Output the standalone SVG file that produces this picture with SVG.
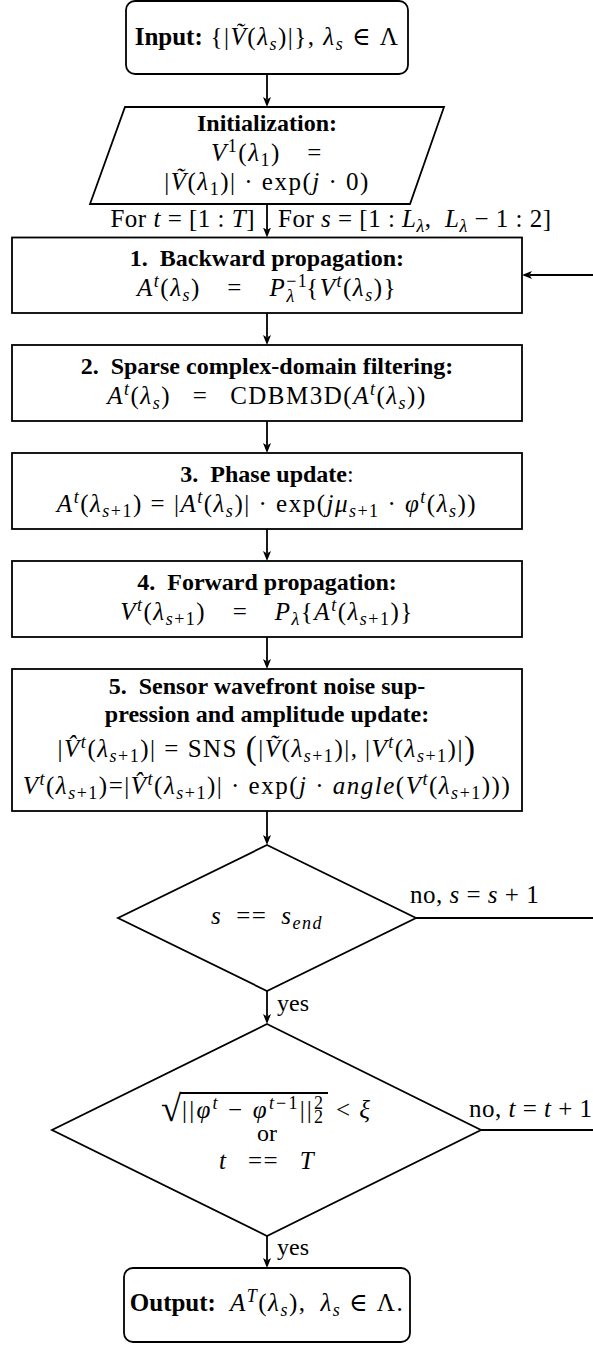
<svg xmlns="http://www.w3.org/2000/svg" width="593" height="1348" viewBox="0 0 593 1348">
<style>
.t{font-family:"Liberation Serif","DejaVu Serif",serif;font-size:24px;fill:#000}
.m{font-size:25px;letter-spacing:1.5px}
.lb{font-size:25px;letter-spacing:0.5px}
.b{font-weight:bold;letter-spacing:0}
.i{font-style:italic}
.sc{font-size:18px}
.box{fill:#fff;stroke:#000;stroke-width:1.8}
.ln{fill:none;stroke:#000;stroke-width:1.8}
.fb{fill:none;stroke:#000;stroke-width:2.2}
</style>
<defs>
<marker id="ah" markerUnits="userSpaceOnUse" markerWidth="11" markerHeight="9" refX="2.5" refY="4" orient="auto">
<path d="M0,0 L10,4 L0,8 L2.5,4 Z" fill="#000"/>
</marker>
</defs>
<rect width="593" height="1348" fill="#fff"/>

<g id="connectors">
<path class="ln" d="M267,74 V99.5" marker-end="url(#ah)"/>
<path class="ln" d="M267,204 V230" marker-end="url(#ah)"/>
<path class="ln" d="M267,313 V337.5" marker-end="url(#ah)"/>
<path class="ln" d="M267,421 V445.5" marker-end="url(#ah)"/>
<path class="ln" d="M267,529 V553.5" marker-end="url(#ah)"/>
<path class="ln" d="M267,637 V661.5" marker-end="url(#ah)"/>
<path class="ln" d="M267,811 V837.5" marker-end="url(#ah)"/>
<path class="ln" d="M267,991 V1016.5" marker-end="url(#ah)"/>
<path class="ln" d="M267,1236 V1260.5" marker-end="url(#ah)"/>
<path class="fb" d="M416,918 H603 V275 H529.5" marker-end="url(#ah)"/>
<path class="fb" d="M481,1130 H603 V918"/>
<text class="t lb" x="255" y="227" text-anchor="end">For <tspan class="i">t</tspan>&#8197;=&#8197;[1&#8197;:&#8197;<tspan class="i">T</tspan>]</text>
<text class="t lb" x="278" y="227">For <tspan class="i">s</tspan>&#8197;=&#8197;[1&#8197;:&#8197;<tspan class="i">L</tspan><tspan class="sc i" dy="5">λ</tspan><tspan dy="-5">,&#8197;&#8197;</tspan><tspan class="i">L</tspan><tspan class="sc i" dy="5">λ</tspan><tspan dy="-5">&#8197;−&#8197;1&#8197;:&#8197;2]</tspan></text>
<text class="t lb" x="410" y="903">no, <tspan class="i">s</tspan>&#8197;=&#8197;<tspan class="i">s</tspan>&#8197;+&#8197;1</text>
<text class="t lb" x="469" y="1117">no, <tspan class="i">t</tspan>&#8197;=&#8197;<tspan class="i">t</tspan>&#8197;+&#8197;1</text>
<text class="t" x="277" y="1011">yes</text>
<text class="t" x="277" y="1255">yes</text>
</g>

<g id="input">
<rect class="box" x="126" y="1" width="282" height="73" rx="9"/>
<text class="t m" x="267" y="45" text-anchor="middle"><tspan class="b">Input:</tspan>&#8197;{|<tspan class="i">Ṽ</tspan>(<tspan class="i">λ</tspan><tspan class="sc i" dy="5">s</tspan><tspan dy="-5">)|},&#8197;</tspan><tspan class="i">λ</tspan><tspan class="sc i" dy="5">s</tspan><tspan dy="-5">&#8197;∈&#8197;Λ</tspan></text>
</g>

<g id="init">
<polygon class="box" points="125,107 444,107 410,204 90,204"/>
<text class="t b" x="267" y="131" text-anchor="middle">Initialization:</text>
<text class="t m" x="267" y="161" text-anchor="middle"><tspan class="i">V</tspan><tspan class="sc" dy="-9">1</tspan><tspan dy="9">(</tspan><tspan class="i">λ</tspan><tspan class="sc" dy="5">1</tspan><tspan dy="-5">)&#8195;=</tspan></text>
<text class="t m" x="267" y="190" text-anchor="middle">|<tspan class="i">Ṽ</tspan>(<tspan class="i">λ</tspan><tspan class="sc" dy="5">1</tspan><tspan dy="-5">)|&#8197;·&#8197;exp(</tspan><tspan class="i">j</tspan>&#8197;·&#8197;0)</text>
</g>

<g id="step1">
<rect class="box" x="12" y="237.5" width="510" height="75.5"/>
<text class="t b" x="267" y="266" text-anchor="middle">1.&#8194;Backward propagation:</text>
<text class="t m" x="267" y="296" text-anchor="middle"><tspan class="i">A</tspan><tspan class="sc i" dy="-9">t</tspan><tspan dy="9">(</tspan><tspan class="i">λ</tspan><tspan class="sc i" dy="5">s</tspan><tspan dy="-5">)&#8195;=&#8195;</tspan><tspan class="i">P</tspan><tspan class="sc" dy="-9">−1</tspan><tspan class="sc i" dy="15" dx="-22">λ</tspan><tspan dy="-6" dx="10.5">{</tspan><tspan class="i">V</tspan><tspan class="sc i" dy="-9">t</tspan><tspan dy="9">(</tspan><tspan class="i">λ</tspan><tspan class="sc i" dy="5">s</tspan><tspan dy="-5">)}</tspan></text>
</g>

<g id="step2">
<rect class="box" x="12" y="345" width="510" height="76"/>
<text class="t b" x="267" y="374" text-anchor="middle">2.&#8194;Sparse complex-domain filtering:</text>
<text class="t m" x="267" y="404" text-anchor="middle"><tspan class="i">A</tspan><tspan class="sc i" dy="-9">t</tspan><tspan dy="9">(</tspan><tspan class="i">λ</tspan><tspan class="sc i" dy="5">s</tspan><tspan dy="-5">)&#8194;&#8197;=&#8194;&#8197;CDBM3D(</tspan><tspan class="i">A</tspan><tspan class="sc i" dy="-9">t</tspan><tspan dy="9">(</tspan><tspan class="i">λ</tspan><tspan class="sc i" dy="5">s</tspan><tspan dy="-5">))</tspan></text>
</g>

<g id="step3">
<rect class="box" x="12" y="453" width="510" height="76"/>
<text class="t" x="267" y="482" text-anchor="middle"><tspan class="b">3.&#8194;Phase update</tspan>:</text>
<text class="t m" x="267" y="512" text-anchor="middle"><tspan class="i">A</tspan><tspan class="sc i" dy="-9">t</tspan><tspan dy="9">(</tspan><tspan class="i">λ</tspan><tspan class="sc" dy="5"><tspan class="i">s</tspan>+1</tspan><tspan dy="-5">)&#8197;=&#8197;|</tspan><tspan class="i">A</tspan><tspan class="sc i" dy="-9">t</tspan><tspan dy="9">(</tspan><tspan class="i">λ</tspan><tspan class="sc i" dy="5">s</tspan><tspan dy="-5">)|&#8197;·&#8197;exp(</tspan><tspan class="i">jμ</tspan><tspan class="sc" dy="5"><tspan class="i">s</tspan>+1</tspan><tspan dy="-5">&#8197;·&#8197;</tspan><tspan class="i">φ</tspan><tspan class="sc i" dy="-9">t</tspan><tspan dy="9">(</tspan><tspan class="i">λ</tspan><tspan class="sc i" dy="5">s</tspan><tspan dy="-5">))</tspan></text>
</g>

<g id="step4">
<rect class="box" x="12" y="561" width="510" height="76"/>
<text class="t b" x="267" y="590" text-anchor="middle">4.&#8194;Forward propagation:</text>
<text class="t m" x="267" y="620" text-anchor="middle"><tspan class="i">V</tspan><tspan class="sc i" dy="-9">t</tspan><tspan dy="9">(</tspan><tspan class="i">λ</tspan><tspan class="sc" dy="5"><tspan class="i">s</tspan>+1</tspan><tspan dy="-5">)&#8195;=&#8195;</tspan><tspan class="i">P</tspan><tspan class="sc i" dy="5">λ</tspan><tspan dy="-5">{</tspan><tspan class="i">A</tspan><tspan class="sc i" dy="-9">t</tspan><tspan dy="9">(</tspan><tspan class="i">λ</tspan><tspan class="sc" dy="5"><tspan class="i">s</tspan>+1</tspan><tspan dy="-5">)}</tspan></text>
</g>

<g id="step5">
<rect class="box" x="12" y="669" width="510" height="142"/>
<text class="t b" x="267" y="694" text-anchor="middle">5.&#8194;Sensor wavefront noise sup-</text>
<text class="t b" x="267" y="722" text-anchor="middle">pression and amplitude update:</text>
<text class="t m" x="267" y="757" text-anchor="middle">|<tspan class="i">V̂</tspan><tspan class="sc i" dy="-9">t</tspan><tspan dy="9">(</tspan><tspan class="i">λ</tspan><tspan class="sc" dy="5"><tspan class="i">s</tspan>+1</tspan><tspan dy="-5">)|&#8197;=&#8197;SNS&#8197;</tspan><tspan font-size="33" dy="2">(</tspan><tspan dy="-2">|</tspan><tspan class="i">Ṽ</tspan>(<tspan class="i">λ</tspan><tspan class="sc" dy="5"><tspan class="i">s</tspan>+1</tspan><tspan dy="-5">)|,&#8201;|</tspan><tspan class="i">V</tspan><tspan class="sc i" dy="-9">t</tspan><tspan dy="9">(</tspan><tspan class="i">λ</tspan><tspan class="sc" dy="5"><tspan class="i">s</tspan>+1</tspan><tspan dy="-5">)|</tspan><tspan font-size="33" dy="2">)</tspan></text>
<text class="t m" x="267" y="794" text-anchor="middle"><tspan class="i">V</tspan><tspan class="sc i" dy="-9">t</tspan><tspan dy="9">(</tspan><tspan class="i">λ</tspan><tspan class="sc" dy="5"><tspan class="i">s</tspan>+1</tspan><tspan dy="-5">)=|</tspan><tspan class="i">V̂</tspan><tspan class="sc i" dy="-9">t</tspan><tspan dy="9">(</tspan><tspan class="i">λ</tspan><tspan class="sc" dy="5"><tspan class="i">s</tspan>+1</tspan><tspan dy="-5">)|&#8197;·&#8197;exp(</tspan><tspan class="i">j</tspan>&#8197;·&#8197;<tspan class="i">angle</tspan>(<tspan class="i">V</tspan><tspan class="sc i" dy="-9">t</tspan><tspan dy="9">(</tspan><tspan class="i">λ</tspan><tspan class="sc" dy="5"><tspan class="i">s</tspan>+1</tspan><tspan dy="-5">)))</tspan></text>
</g>

<g id="decision1">
<polygon class="box" points="267,845 416,918 267,991 118,918"/>
<text class="t m" x="267" y="924" text-anchor="middle"><tspan class="i">s</tspan>&#8194;==&#8194;<tspan class="i">s</tspan><tspan class="sc i" dy="5">end</tspan></text>
</g>

<g id="decision2">
<polygon class="box" points="267,1024 481,1130 267,1236 52,1130"/>
<text class="t" x="161" y="1121" style="font-size:37px">√</text>
<text class="t" x="182" y="1118" style="font-size:25px;letter-spacing:2.2px"><tspan>||</tspan><tspan class="i">φ</tspan><tspan class="sc i" dy="-9">t</tspan><tspan dy="9">&#8197;−&#8197;</tspan><tspan class="i">φ</tspan><tspan class="sc" dy="-9"><tspan class="i">t</tspan>−1</tspan><tspan dy="9">||</tspan><tspan class="sc" dy="-9">2</tspan><tspan class="sc" dy="14" dx="-11.2">2</tspan></text>
<text class="t m" x="336" y="1118">&lt;&#8197;<tspan class="i">ξ</tspan></text>
<line class="ln" x1="180" y1="1093" x2="328" y2="1093" stroke-width="1.2"/>
<text class="t" x="267" y="1141" text-anchor="middle">or</text>
<text class="t m" x="267" y="1169" text-anchor="middle"><tspan class="i">t</tspan>&#8194;&#8201;==&#8194;&#8201;<tspan class="i">T</tspan></text>
</g>

<g id="output">
<rect class="box" x="124" y="1268" width="286" height="74" rx="9"/>
<text class="t m" x="267" y="1311" text-anchor="middle"><tspan class="b">Output:</tspan>&#8194;<tspan class="i">A</tspan><tspan class="sc i" dy="-9">T</tspan><tspan dy="9">(</tspan><tspan class="i">λ</tspan><tspan class="sc i" dy="5">s</tspan><tspan dy="-5">),&#8194;</tspan><tspan class="i">λ</tspan><tspan class="sc i" dy="5">s</tspan><tspan dy="-5">&#8197;∈&#8197;Λ.</tspan></text>
</g>
</svg>
